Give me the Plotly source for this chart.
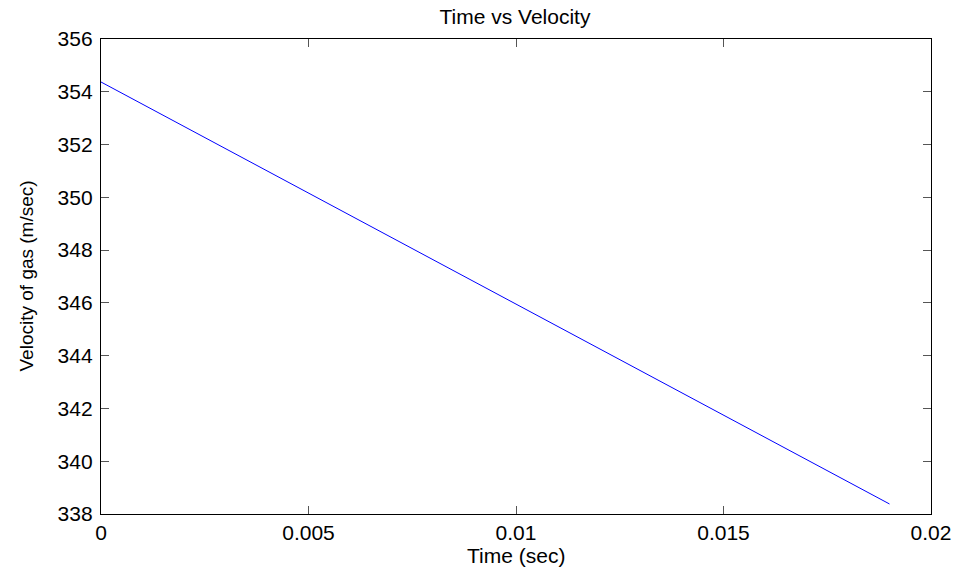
import plotly.graph_objects as go

# Gas velocity over time
time_sec = [0.0, 0.019]
velocity_ms = [354.37, 338.38]

x_ticks = [0, 0.005, 0.01, 0.015, 0.02]
x_tick_text = ["0", "0.005", "0.01", "0.015", "0.02"]
y_ticks = [338, 340, 342, 344, 346, 348, 350, 352, 354, 356]

FONT = "Liberation Sans, Arial, Helvetica, sans-serif"

fig = go.Figure()
fig.add_trace(go.Scatter(
    x=time_sec, y=velocity_ms, mode="lines",
    line=dict(color="#0000ff", width=1),
    showlegend=False, hoverinfo="skip",
))

axis_common = dict(
    showgrid=False, zeroline=False,
    showline=True, linecolor="black", linewidth=1.3,
    mirror="ticks", ticks="inside", ticklen=8, tickwidth=1, tickcolor="#555555",
    tickfont=dict(family=FONT, size=21, color="black"),
)

fig.update_layout(
    width=964, height=572,
    margin=dict(l=101, r=33, t=39, b=58),
    paper_bgcolor="white", plot_bgcolor="white",
    title=dict(text="Time vs Velocity", x=515 / 964, xanchor="center",
               y=1 - 17 / 572, yanchor="middle",
               font=dict(family=FONT, size=21, color="black")),
    xaxis=dict(range=[0, 0.02], tickvals=x_ticks, ticktext=x_tick_text, **axis_common),
    yaxis=dict(range=[338, 356], tickvals=y_ticks, ticklabelstandoff=3, **axis_common),
    annotations=[
        dict(text="Time (sec)", xref="paper", yref="paper", x=0.5, y=-0.088,
             xanchor="center", yanchor="middle", showarrow=False,
             font=dict(family=FONT, size=21, color="black")),
        dict(text="Velocity of gas (m/sec)", xref="paper", yref="paper",
             x=(26 - 101) / 830, y=0.5, xanchor="center", yanchor="middle",
             textangle=-90, showarrow=False,
             font=dict(family=FONT, size=19, color="black")),
    ],
)

fig.write_html("out.html")
